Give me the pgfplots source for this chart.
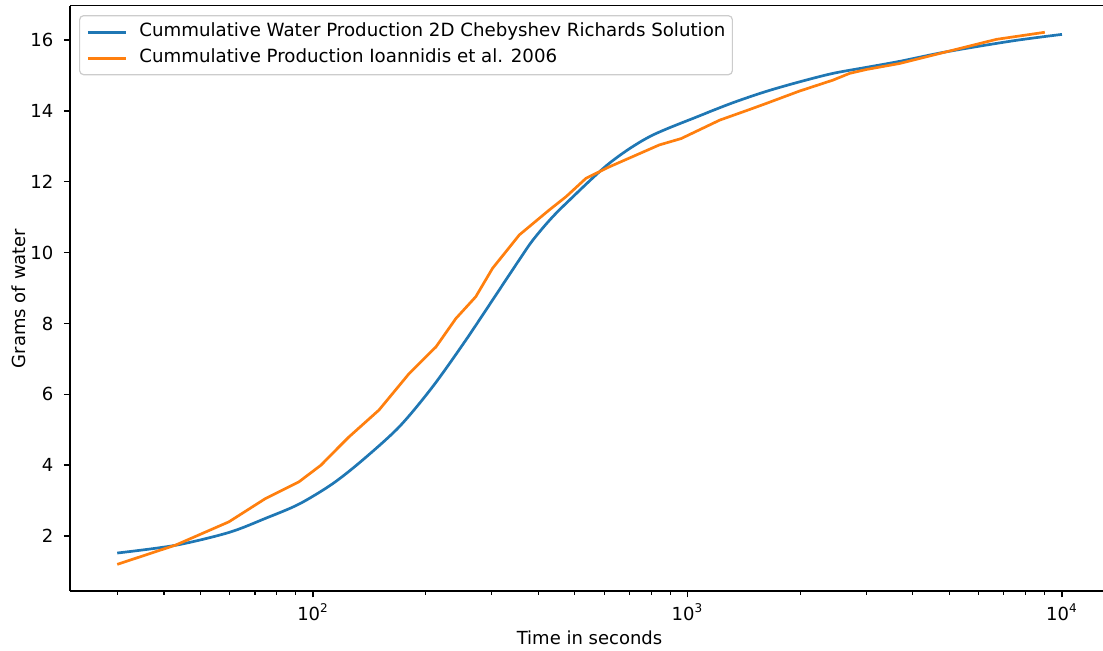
\documentclass[border=0pt]{standalone}
\usepackage{fontspec}
\setmainfont{DejaVu Sans}
\usepackage{pgfplots}
\pgfplotsset{compat=1.18}
\definecolor{mplblue}{HTML}{1F77B4}
\definecolor{mplorange}{HTML}{FF7F0E}
\begin{document}
\begin{tikzpicture}
\begin{axis}[
  xmode=log,
  scale only axis,
  width=519.5pt, height=292.65pt,
  xmin=22.44, xmax=13357, ymin=0.448, ymax=16.97,
  axis x line*=box, axis y line*=left,
  xtick={100,1000,10000},
  xticklabels={{10\textsuperscript{2}},{10\textsuperscript{3}},{10\textsuperscript{4}}},
  minor xtick={30,40,50,60,70,80,90,200,300,400,500,600,700,800,900,2000,3000,4000,5000,6000,7000,8000,9000},
  ytick={2,4,6,8,10,12,14,16},
  tick align=outside, tick pos=left,
  major tick length=3.15pt, minor tick length=1.8pt,
  axis line style={line width=0.72pt, black},
  every tick/.style={black, line width=0.72pt},
  every minor tick/.style={black, line width=0.54pt},
  tick label style={font=\fontsize{9}{11}\selectfont, inner sep=0pt},
  yticklabel style={xshift=-5pt},
  xticklabel style={yshift=-3pt},
  /pgf/number format/assume math mode=true,
  xlabel={Time in seconds},
  ylabel={Grams of water},
  label style={font=\fontsize{9}{11}\selectfont, inner sep=0pt},
  xlabel style={at={(axis description cs:0.5,-0.068)}, anchor=north},
  ylabel style={at={(axis description cs:-0.0433,0.5)}, anchor=base, rotate=0},
  legend style={at={(0.0087,0.984)}, anchor=north west, draw=black!20, line width=0.6pt,
    rounded corners=2pt, fill=white, fill opacity=0.8, text opacity=1,
    font=\fontsize{9.1}{11}\selectfont, inner xsep=3.5pt, inner ysep=4pt, row sep=4.5pt,
    nodes={inner sep=0pt, text height=6.6pt, text depth=1.9pt}},
  legend cell align=left,
  legend image code/.code={\draw[#1, line width=1.35pt] (0pt,0pt) -- (19pt,0pt); \path (25pt,0pt);},
]
\addplot[mplblue, line width=1.35pt, smooth, tension=0.5] coordinates {
(30,1.52) (43,1.74) (59.6,2.10) (74.7,2.50) (91.7,2.90) (112.6,3.47)
(135.5,4.14) (170,5.085) (208.5,6.21) (255.9,7.53) (314,8.94) (355.6,9.80) (385,10.33)
(427,10.90) (474,11.39) (618,12.52) (791,13.27) (1076,13.86) (1321,14.23) (1622,14.55)
(1991,14.82) (2447,15.06) (3006,15.23) (3690,15.40) (4920,15.67) (7413,15.98) (10000,16.16)
};
\addlegendentry{Cummulative Water Production 2D Chebyshev Richards Solution}
\addplot[mplorange, line width=1.35pt] coordinates {
(30,1.20) (43,1.746) (59.6,2.40) (74.7,3.06) (91.7,3.53) (105,4.0) (117.4,4.52) (124.8,4.80)
(150,5.556) (180.7,6.59) (213,7.34) (240.7,8.14) (272,8.755) (301.5,9.555) (355.6,10.50)
(427,11.20) (474,11.58) (536,12.10) (618,12.42) (841,13.04) (962,13.22) (1219,13.74)
(1465,14.04) (1622,14.21) (1991,14.56) (2447,14.87) (2710,15.06) (3006,15.17) (3690,15.34)
(4920,15.67) (6683,16.02) (9000,16.22)
};
\addlegendentry{Cummulative Production Ioannidis et al. 2006}
\end{axis}
\pgfresetboundingbox
\useasboundingbox ([xshift=-35pt,yshift=-29.5pt]current axis.south west) rectangle ([xshift=-3pt,yshift=2.85pt]current axis.north east);
\end{tikzpicture}
\end{document}
